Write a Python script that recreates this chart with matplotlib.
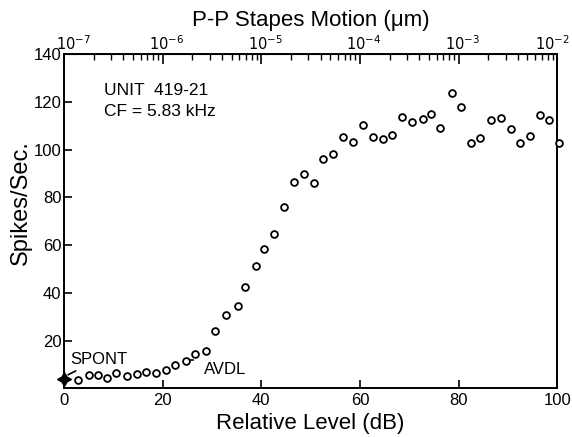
import matplotlib.pyplot as plt
import matplotlib.transforms as mtransforms
from matplotlib.ticker import LogLocator, NullFormatter
import numpy as np

plt.rcParams['font.family'] = ['Liberation Sans', 'DejaVu Sans']

# relative level (dB) and discharge rate (spikes/sec)
level_db = [2.8, 5.1, 6.9, 8.7, 10.6, 12.7, 14.8, 16.7, 18.6, 20.7,
            22.6, 24.7, 26.6, 28.7, 30.7, 32.8, 35.2, 36.6, 38.9, 40.5,
            42.6, 44.7, 46.6, 48.6, 50.7, 52.5, 54.5, 56.5, 58.5, 60.6,
            62.6, 64.6, 66.5, 68.6, 70.5, 72.8, 74.5, 76.3, 78.7, 80.6,
            82.5, 84.4, 86.6, 88.6, 90.6, 92.4, 94.4, 96.6, 98.4, 100.4]
rate = [3.5, 5.7, 5.7, 4.2, 6.5, 5.2, 6.1, 6.7, 6.5, 7.7,
        9.9, 11.6, 14.4, 15.9, 24.2, 30.8, 34.4, 42.6, 51.5, 58.5,
        64.5, 76.2, 86.5, 89.9, 86.0, 96.3, 98.4, 105.2, 103.2, 110.2,
        105.3, 104.3, 106.0, 113.6, 111.7, 113.0, 114.8, 109.1, 123.8, 117.9,
        102.6, 104.9, 112.6, 113.4, 108.5, 102.6, 105.7, 114.4, 112.3, 102.6]
spont_db, spont_rate = 0, 4.0
avdl_db = [24.7, 26.2]
avdl_rate = [11.8, 11.8]

x_ticks = [0, 20, 40, 60, 80, 100]
y_ticks = [20, 40, 60, 80, 100, 120, 140]
top_ticks = [1e-7, 1e-6, 1e-5, 1e-4, 1e-3, 1e-2]
top_labels = [r'$10^{-7}$', r'$10^{-6}$', r'$10^{-5}$', r'$10^{-4}$', r'$10^{-3}$', r'$10^{-2}$']

fig = plt.figure(figsize=(5.72, 4.37), dpi=100)
fig.patch.set_facecolor('white')
ax = fig.add_axes([0.112, 0.111, 0.862, 0.765])

ax.scatter(level_db, rate, s=24, facecolors='white', edgecolors='black',
           linewidths=1.3, zorder=3, clip_on=False)
ax.plot([spont_db], [spont_rate], marker=(4, 1, 0), markersize=10,
        color='black', clip_on=False, zorder=4)
ax.plot(avdl_db, avdl_rate, color='black', linewidth=1.2, zorder=2)

ax.annotate('SPONT', xy=(0.3, 5.2), xytext=(1.2, 10.3), fontsize=12,
            arrowprops=dict(arrowstyle='-', color='black', lw=1.2))
ax.text(28.3, 6.0, 'AVDL', fontsize=12)
ax.text(8, 123, 'UNIT  419-21', fontsize=12.5)
ax.text(8, 114, 'CF = 5.83 kHz', fontsize=12.5)

ax.set_xlim(0, 100)
ax.set_ylim(0, 140)
ax.set_xticks(x_ticks)
ax.set_yticks(y_ticks)
ax.tick_params(direction='in', length=6, width=1.2, labelsize=12)
ax.tick_params(axis='x', pad=3)
ax.tick_params(axis='y', pad=2)
for s in ax.spines.values():
    s.set_linewidth(1.4)

ax.set_xlabel('Relative Level (dB)', fontsize=16)
ax.set_ylabel('Spikes/Sec.', fontsize=17)
ax.yaxis.set_label_coords(-0.066, 0.555)

top = ax.secondary_xaxis('top', functions=(lambda d: 1e-7 * 10 ** (d / 20.0),
                                           lambda v: 20.0 * np.log10(np.maximum(v, 1e-30) / 1e-7)))
top.set_xscale('log')
top.set_xticks(top_ticks)
top.set_xticklabels(top_labels)
top.xaxis.set_minor_locator(LogLocator(base=10, subs=np.arange(2, 10)))
top.xaxis.set_minor_formatter(NullFormatter())
top.tick_params(which='major', direction='in', length=7, width=1.2, labelsize=10.5, pad=1)
top.tick_params(which='minor', direction='in', length=4, width=1.0)
top.set_xlabel('P-P Stapes Motion (μm)', fontsize=16, labelpad=6)

# nudge the decade labels so the "10" sits over its tick, as in the scan
shifts = [9, 4, 4, 4, 4, -5]
for lab, dx in zip(top.get_xticklabels(), shifts):
    lab.set_transform(lab.get_transform() + mtransforms.ScaledTranslation(dx / 100.0, 0, fig.dpi_scale_trans))

fig.savefig('out.png', dpi=100)
